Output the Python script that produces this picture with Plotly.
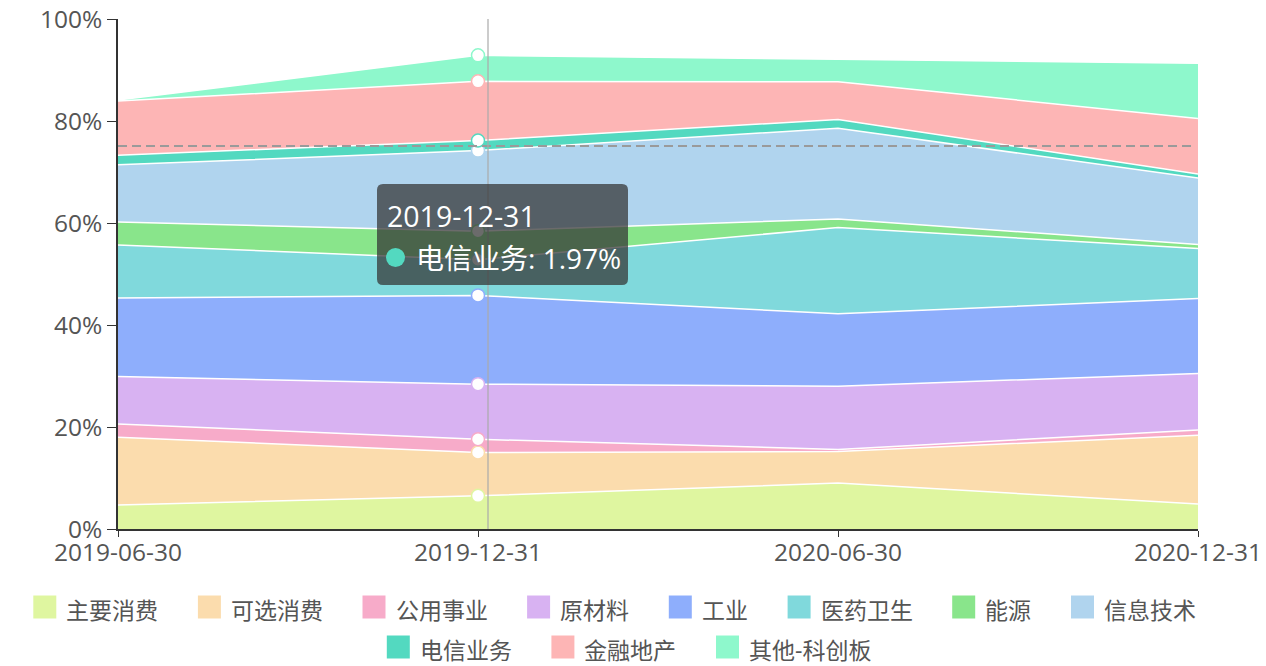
import numpy as np
import plotly.graph_objects as go

# report dates (category axis)
dates = ["2019-06-30", "2019-12-31", "2020-06-30", "2020-12-31"]

# sector weights in %, one list per sector, bottom of the stack first
names = ["主要消费", "可选消费", "公用事业", "原材料", "工业", "医药卫生",
         "能源", "信息技术", "电信业务", "金融地产", "其他-科创板"]
staples = [4.7, 6.5, 9.0, 4.9]
discretionary = [13.3, 8.5, 6.2, 13.5]
utilities = [2.6, 2.6, 0.4, 1.0]
materials = [9.3, 10.8, 12.4, 11.1]
industrials = [15.4, 17.4, 14.2, 14.7]
healthcare = [10.4, 7.0, 16.9, 9.8]
energy = [4.5, 5.6, 1.7, 0.8]
info_tech = [11.2, 15.8, 17.8, 13.0]
telecom = [1.9, 1.97, 1.7, 0.8]
financials = [10.6, 11.6, 7.4, 10.9]
star_market = [0.2, 5.1, 4.4, 10.8]

series = [staples, discretionary, utilities, materials, industrials, healthcare,
          energy, info_tech, telecom, financials, star_market]

colors = ["#dff6a0", "#fbdcad", "#f7abc9", "#d8b2f2", "#8eaefc", "#80d9dc",
          "#89e58b", "#b0d4ee", "#53d9c0", "#fdb5b5", "#8ef8cc"]

avg_line = 75.1       # dashed reference line
hover_idx = 1         # date under the cursor
hover_series = 8      # series shown in the tooltip

FONT = "Open Sans, Noto Sans CJK SC"
W, H = 1266, 666
OFF = 8               # page body margin, figure starts at (8, 8)
# plot area in page pixels: x 118..1198, y 19..529
ML, MT = 118 - OFF, 19 - OFF
MR, MB = W - (1198 - OFF), H - (529 - OFF)
PW, PH = W - ML - MR, H - MT - MB


def px(x):
    # page pixel -> paper x
    return (x - OFF - ML) / PW


def py(y):
    # page pixel -> paper y
    return (H - MB - (y - OFF)) / PH


fig = go.Figure()

# stacked areas
for name, vals, col in zip(names, series, colors):
    fig.add_trace(go.Scatter(x=dates, y=vals, name=name, stackgroup="one",
                             mode="lines", line=dict(color="white", width=1.5),
                             fillcolor=col, showlegend=False, hoverinfo="skip"))

# highlighted points at the hovered date
tops = np.cumsum([s[hover_idx] for s in series])
fig.add_trace(go.Scatter(x=[dates[hover_idx]] * len(tops), y=tops, mode="markers",
                         marker=dict(size=13, color="white",
                                     line=dict(color=colors, width=1.5)),
                         showlegend=False, hoverinfo="skip"))

fig.update_layout(
    width=W, height=H,
    margin=dict(l=ML, r=MR, t=MT, b=MB, autoexpand=False),
    paper_bgcolor="white", plot_bgcolor="white",
    hovermode=False, showlegend=False,
    xaxis=dict(type="category", range=[0, len(dates) - 1], showgrid=False,
               showline=True, linecolor="#333", linewidth=1.5,
               ticks="outside", ticklen=6, tickcolor="#333", ticklabelstandoff=-5,
               ticklabeloverflow="allow",
               tickfont=dict(family=FONT, size=24.5, color="#555"), zeroline=False),
    yaxis=dict(range=[0, 100], tickvals=[0, 20, 40, 60, 80, 100],
               ticktext=["0%", "20%", "40%", "60%", "80%", "100%"],
               showgrid=True, gridcolor="#d4d4d4", gridwidth=1.5,
               showline=True, linecolor="#333", linewidth=1.5,
               ticks="outside", ticklen=9, tickcolor="#333",
               ticklabeloverflow="allow",
               tickfont=dict(family=FONT, size=24.5, color="#555"), zeroline=False),
)

# dashed reference line
fig.add_shape(type="line", xref="x", yref="y", x0=0, x1=len(dates) - 1 - 6 / 360,
              y0=avg_line, y1=avg_line, layer="above",
              line=dict(color="#9a9a9a", width=2, dash="9px,5px"))

# crosshair
cx = hover_idx + 10 / 360
fig.add_shape(type="line", xref="x", yref="paper", x0=cx, x1=cx, y0=0, y1=1,
              layer="above", line=dict(color="#aaa", width=1.2))

# tooltip box with rounded corners
bx0, bx1, by0, by1 = px(377), px(628), py(285), py(184)
rx, ry = 6 / PW, 6 / PH
path = (f"M{bx0+rx},{by1} L{bx1-rx},{by1} Q{bx1},{by1} {bx1},{by1-ry} "
        f"L{bx1},{by0+ry} Q{bx1},{by0} {bx1-rx},{by0} L{bx0+rx},{by0} "
        f"Q{bx0},{by0} {bx0},{by0+ry} L{bx0},{by1-ry} Q{bx0},{by1} {bx0+rx},{by1} Z")
fig.add_shape(type="path", xref="paper", yref="paper", path=path, layer="above",
              fillcolor="rgba(50,50,50,0.72)", line=dict(width=0))
fig.add_shape(type="circle", xref="paper", yref="paper", layer="above",
              x0=px(386), x1=px(405), y0=py(267), y1=py(248),
              fillcolor=colors[hover_series], line=dict(width=0))
fig.add_annotation(xref="paper", yref="paper", x=px(385), y=py(216),
                   xanchor="left", yanchor="middle", showarrow=False,
                   text=dates[hover_idx], font=dict(family=FONT, size=28.5, color="white"))
fig.add_annotation(xref="paper", yref="paper", x=px(414), y=py(258),
                   xanchor="left", yanchor="middle", showarrow=False,
                   text=f"{names[hover_series]}: {series[hover_series][hover_idx]:.2f}%",
                   font=dict(family=FONT, size=28, color="white"))

# legend: two centred rows of square swatches
rows = [(list(range(8)), 33.3, 607), (list(range(8, 11)), 386.8, 647)]
CH = 22.9   # width of one CJK character at legend size
for idx, sx, cy in rows:
    for i in idx:
        tw = sum(7.4 if ch == "-" else CH for ch in names[i])
        fig.add_shape(type="rect", xref="paper", yref="paper", layer="above",
                      x0=px(sx), x1=px(sx + 23), y0=py(cy + 11.5), y1=py(cy - 11.5),
                      fillcolor=colors[i], line=dict(width=0))
        fig.add_annotation(xref="paper", yref="paper", x=px(sx + 31), y=py(cy + 3),
                           xanchor="left", yanchor="middle", showarrow=False,
                           text=names[i], font=dict(family=FONT, size=23, color="#555"))
        sx += 23 + 10 + tw + 40

fig.write_html("out.html")
